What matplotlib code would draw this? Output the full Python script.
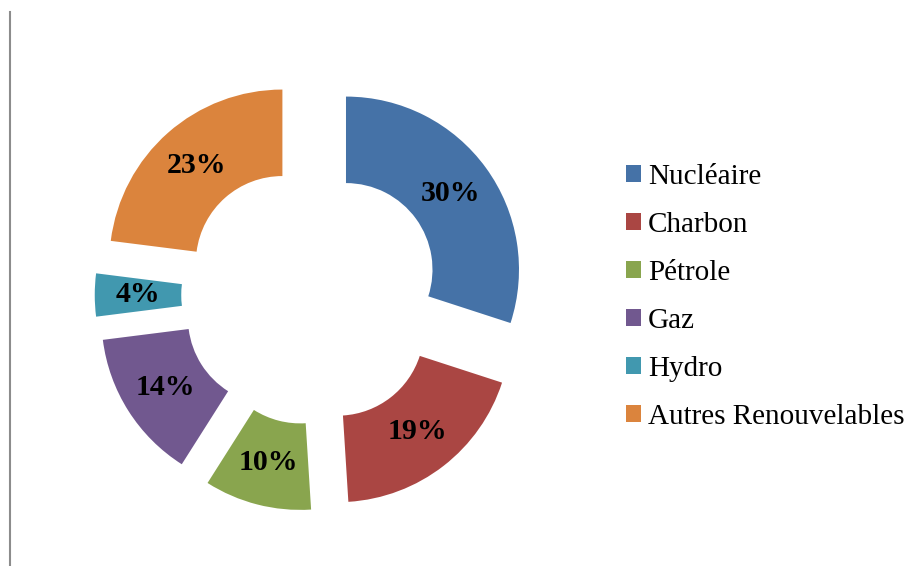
import matplotlib
matplotlib.use("Agg")
import matplotlib.pyplot as plt
from matplotlib.lines import Line2D

# data
labels = ["Nucléaire", "Charbon", "Pétrole", "Gaz", "Hydro", "Autres Renouvelables"]
shares = [30, 19, 10, 14, 4, 23]
colors = ["#4572A7", "#AA4643", "#89A54E", "#71588F", "#4198AF", "#DB843D"]

plt.rcParams['font.family'] = ['Liberation Serif', 'DejaVu Serif']

fig = plt.figure(figsize=(9.18, 5.66), dpi=100)
fig.patch.set_facecolor("white")

# square axes: 1 data unit ~ 173 px, centred at (311, 295) px
ax = fig.add_axes([51.5 / 918, (566 - 554.5) / 566, 519 / 918, 519 / 566])
wedges, texts, autotexts = ax.pie(
    shares,
    colors=colors,
    explode=[0.25] * len(shares),
    startangle=90,
    counterclock=False,
    radius=1.0,
    pctdistance=0.75,
    autopct="%1.0f%%",
    wedgeprops=dict(width=0.5, linewidth=0),
)
for t in autotexts:
    t.set_fontsize(21.5)
    t.set_fontweight("bold")
    t.set_color("black")
ax.set_xlim(-1.5, 1.5)
ax.set_ylim(-1.5, 1.5)
ax.set_aspect("equal")
ax.axis("off")

fig.legend(
    wedges, labels,
    loc="center left",
    bbox_to_anchor=(611 / 918, 1 - 297 / 566),
    frameon=False,
    fontsize=21,
    handlelength=0.52,
    handleheight=0.52,
    handletextpad=0.25,
    labelspacing=0.75,
    borderpad=0,
)

# thin grey border line on the left
fig.add_artist(Line2D([9.5 / 918, 9.5 / 918], [0, 1 - 12 / 566],
                      transform=fig.transFigure, color="#8c8c8c", linewidth=1.5))

fig.savefig("out.png", dpi=100)
